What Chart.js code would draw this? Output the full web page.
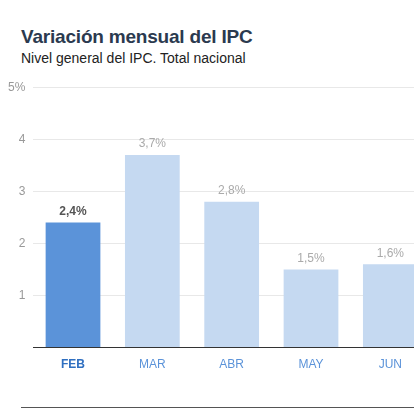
<!DOCTYPE html>
<html><head><meta charset="utf-8">
<script src="https://cdn.jsdelivr.net/npm/chart.js@4"></script>
<style>
html,body{margin:0;padding:0;width:414px;height:414px;overflow:hidden;background:#fff;font-family:"Liberation Sans",Arial,sans-serif;}
#t{position:absolute;left:21px;top:26px;font-size:19px;font-weight:bold;color:#2b3a4f;letter-spacing:-0.2px}
#s{position:absolute;left:21px;top:50px;font-size:14px;color:#222}
#c{position:absolute;left:0;top:72px;width:430px;height:310px}
#line{position:absolute;left:21px;top:407px;width:393px;height:1px;background:#555}
</style></head><body>
<div id="t">Variación mensual del IPC</div>
<div id="s">Nivel general del IPC. Total nacional</div>
<div id="c"><canvas id="cv"></canvas></div>
<div id="line"></div>
<script>
const categories=["FEB","MAR","ABR","MAY","JUN"];
const values=[2.4,3.7,2.8,1.5,1.6];
const labels=["2,4%","3,7%","2,8%","1,5%","1,6%"];
const highlight=0;
const lbl={id:'lbl',afterDatasetsDraw(ch){const ctx=ch.ctx;const m=ch.getDatasetMeta(0);ctx.save();ctx.textAlign='center';ctx.textBaseline='bottom';
m.data.forEach((b,i)=>{ctx.font=(i===highlight?'bold ':'')+'12px "Liberation Sans", Arial';ctx.fillStyle=i===highlight?'#555':'#aaa';ctx.fillText(labels[i],b.x,b.y-5);});ctx.restore();}};
new Chart(document.getElementById('cv'),{type:'bar',
data:{labels:categories,datasets:[{data:values,backgroundColor:values.map((v,i)=>i===highlight?'#5b93d9':'#c5d9f1'),categoryPercentage:1,barPercentage:0.69}]},
options:{responsive:true,maintainAspectRatio:false,animation:false,
layout:{padding:{left:0,right:0,top:6,bottom:0}},
plugins:{legend:{display:false},tooltip:{enabled:false}},
scales:{
y:{min:0,max:5,ticks:{stepSize:1,color:'#999',font:{size:12,family:'"Liberation Sans", Arial'},padding:8,callback:v=>v===5?'5%':(v===0?'':v)},grid:{color:'#e8e8e8',drawTicks:false},border:{display:false}},
x:{ticks:{color:(c)=>c.index===highlight?'#2f6fc0':'#5b93d9',font:(c)=>({size:12,weight:c.index===highlight?'bold':'normal',family:'"Liberation Sans", Arial'}),padding:10},grid:{display:false,drawTicks:false},border:{color:'#333',width:1}}
}},plugins:[lbl]});
</script></body></html>
